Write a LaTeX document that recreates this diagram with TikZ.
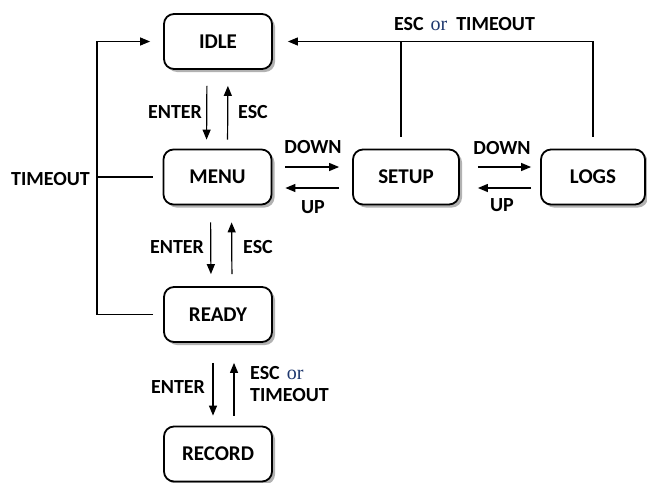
\documentclass[tikz,border=0pt]{standalone}
\usepackage{fontspec}
\setmainfont{Carlito}
\newfontfamily\orfont{Liberation Serif}
\usetikzlibrary{arrows.meta,shadows}
\definecolor{ornavy}{RGB}{31,56,110}
\tikzset{
  statebox/.style={draw, line width=1.8pt, rounded corners=10pt, fill=white,
    minimum width=108pt, minimum height=55pt, font=\fontsize{21}{24}\selectfont\bfseries,
    drop shadow={shadow xshift=3pt, shadow yshift=-3pt, opacity=0.3, fill=black}},
  lbl/.style={font=\fontsize{20}{23}\selectfont\bfseries, inner sep=0pt},
  conn/.style={line width=1.2pt},
  arr/.style={line width=1.2pt, -{Triangle[length=10pt,width=8pt]}},
}
\newcommand{\ortxt}{{\orfont\mdseries\fontsize{20}{23}\selectfont\color{ornavy}or}}
\begin{document}
\begin{tikzpicture}[x=1pt,y=-1pt]
\useasboundingbox (0,0) rectangle (647,482);
\node[statebox] (idle) at (218,41.5) {IDLE};
\node[statebox] (menu) at (217.5,177) {MENU};
\node[statebox, minimum width=106pt] (setup) at (406,177) {SETUP};
\node[statebox, minimum width=104pt] (logs) at (593,177) {LOGS};
\node[statebox] (ready) at (218,314.5) {READY};
\node[statebox] (record) at (218,454) {RECORD};
% IDLE <-> MENU
\draw[arr, shorten <=16pt, shorten >=9pt] ([xshift=-11pt]idle.south) -- ([xshift=-11pt]menu.north);
\draw[arr, shorten <=9pt, shorten >=16pt] ([xshift=10pt]menu.north) -- ([xshift=10pt]idle.south);
\node[lbl] (l1) at (175,112) {ENTER};
\node[lbl] (l2) at (253,112) {ESC};
% MENU <-> READY
\draw[arr, shorten <=17pt, shorten >=12pt] ([xshift=-7pt]menu.south) -- ([xshift=-7pt]ready.north);
\draw[arr, shorten <=12pt, shorten >=17pt] ([xshift=14pt]ready.north) -- ([xshift=14pt]menu.south);
\node[lbl] (l3) at (177,247) {ENTER};
\node[lbl] (l4) at (258,247) {ESC};
% READY <-> RECORD
\draw[arr, shorten <=20pt, shorten >=10pt] ([xshift=-5pt]ready.south) -- ([xshift=-5pt]record.north);
\draw[arr, shorten <=10pt, shorten >=20pt] ([xshift=16pt]record.north) -- ([xshift=16pt]ready.south);
\node[lbl] (l5) at (178,387) {ENTER};
\node[lbl, anchor=west] (l6) at (250,373) {ESC\hspace{7pt}\ortxt};
\node[lbl, anchor=west] (l7) at (250,395) {TIMEOUT};
% MENU <-> SETUP
\draw[arr, shorten <=13pt, shorten >=13pt] ([yshift=10pt]menu.east) -- ([yshift=10pt]setup.west);
\draw[arr, shorten <=13pt, shorten >=13pt] ([yshift=-11pt]setup.west) -- ([yshift=-11pt]menu.east);
\node[lbl] (l8) at (313,147) {DOWN};
\node[lbl] (l9) at (313,207) {UP};
% SETUP <-> LOGS
\draw[arr, shorten <=18pt, shorten >=9pt] ([yshift=10pt]setup.east) -- ([yshift=10pt]logs.west);
\draw[arr, shorten <=9pt, shorten >=18pt] ([yshift=-11pt]logs.west) -- ([yshift=-11pt]setup.east);
\node[lbl] (l10) at (502,148) {DOWN};
\node[lbl] (l11) at (502,205) {UP};
% ESC or TIMEOUT back to IDLE
\draw[arr, shorten <=12pt, shorten >=15pt] (logs.north) |- (idle.east);
\draw[conn, shorten <=12pt] ([xshift=-5pt]setup.north) -- ([xshift=-5pt]setup.north |- idle.east);
\node[lbl] (l12) at (464.5,24) {ESC\hspace{7pt}\ortxt\hspace{9pt}TIMEOUT};
% TIMEOUT loop
\coordinate (lx) at (97,0);
\draw[arr, shorten <=10pt, shorten >=13pt] (ready.west) -- (ready.west -| lx) |- (idle.west);
\draw[conn, shorten <=10pt] (menu.west) -- (menu.west -| lx);
\node[lbl, anchor=east] (l13) at (90,179) {TIMEOUT};
\end{tikzpicture}
\end{document}
